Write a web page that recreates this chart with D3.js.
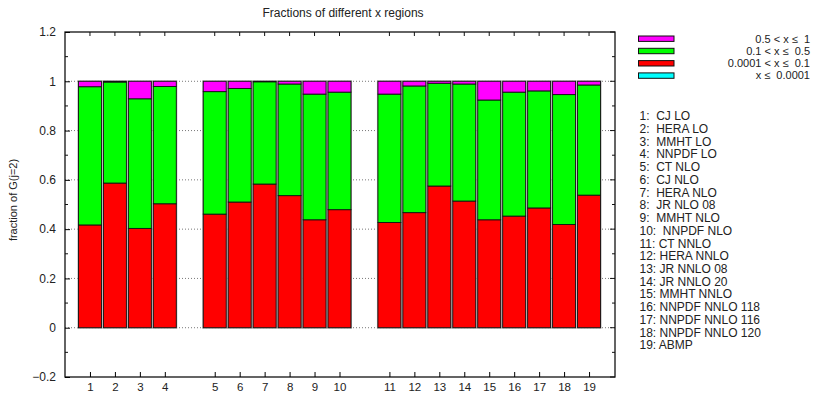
<!DOCTYPE html>
<html>
<head>
<meta charset="utf-8">
<script src="https://cdn.jsdelivr.net/npm/d3@7"></script>
<style>
body { margin: 0; background: #fff; }
text { font-family: "Liberation Sans", Arial, sans-serif; fill: #222; }
</style>
</head>
<body>
<div id="chart"></div>
<script>
// bar labels (x tick text) and their slot on the x axis (groups separated by gaps)
var ticks = ["1","2","3","4","5","6","7","8","9","10","11","12","13","14","15","16","17","18","19"];
var slots = [0,1,2,3, 5,6,7,8,9,10, 12,13,14,15,16,17,18,19,20];
var names = ["1:  CJ LO","2:  HERA LO","3:  MMHT LO","4:  NNPDF LO","5:  CT NLO","6:  CJ NLO",
  "7:  HERA NLO","8:  JR NLO 08","9:  MMHT NLO","10:  NNPDF NLO","11: CT NNLO","12: HERA NNLO",
  "13: JR NNLO 08","14: JR NNLO 20","15: MMHT NNLO","16: NNPDF NNLO 118","17: NNPDF NNLO 116",
  "18: NNPDF NNLO 120","19: ABMP"];

// fractions per x region
var lowX  = [0,0,0,0, 0,0,0,0,0,0, 0,0,0,0,0,0,0,0,0];   // x <= 0.0001
var midX  = [0.417,0.587,0.403,0.503, 0.461,0.510,0.583,0.536,0.438,0.479,
             0.427,0.467,0.575,0.514,0.438,0.453,0.486,0.419,0.538];  // 0.0001 < x <= 0.1
var highX = [0.561,0.410,0.526,0.476, 0.497,0.461,0.415,0.453,0.510,0.477,
             0.521,0.514,0.417,0.475,0.486,0.503,0.475,0.527,0.447];  // 0.1 < x <= 0.5
var topX  = [0.022,0.003,0.071,0.021, 0.042,0.029,0.002,0.011,0.052,0.044,
             0.052,0.019,0.008,0.011,0.076,0.044,0.039,0.054,0.015];  // 0.5 < x <= 1

var legendLabels = ["0.5 < x \u2264  1", "0.1 < x \u2264  0.5", "0.0001 < x \u2264  0.1", "x \u2264  0.0001"];
var colors = ["#ff00ff", "#00ff00", "#ff0000", "#00ffff"];

var width = 813, height = 394;
var margin = {top: 32, right: 198, bottom: 17, left: 65};

var svg = d3.select("#chart").append("svg")
  .attr("width", width)
  .attr("height", height);

var x = d3.scaleLinear().domain([-1, 21.04]).range([margin.left, width - margin.right]);
var y = d3.scaleLinear().domain([-0.2, 1.2]).range([height - margin.bottom, margin.top]);

// grid lines at major ticks
var majors = d3.range(-0.2, 1.21, 0.2).map(d => +d.toFixed(1));
svg.append("g").selectAll("line").data(majors.filter(d => d > -0.2 && d < 1.2))
  .enter().append("line")
  .attr("x1", x(-1)).attr("x2", x(21.04))
  .attr("y1", d => y(d)).attr("y2", d => y(d))
  .attr("stroke", "#555")
  .attr("stroke-width", 0.8)
  .attr("stroke-dasharray", "1,2");

// stacked bars
var rows = ticks.map(function(t, i) {
  return {slot: slots[i], low: lowX[i], mid: midX[i], high: highX[i], top: topX[i]};
});
var stack = d3.stack().keys(["low", "mid", "high", "top"]);
var series = stack(rows);
var segColor = {low: colors[3], mid: colors[2], high: colors[1], top: colors[0]};
var bw = x(0.92) - x(0);

// gray outer border of each bar
svg.append("g").selectAll("rect").data(rows).enter().append("rect")
  .attr("x", d => x(d.slot) - bw / 2 - 1)
  .attr("width", bw + 2)
  .attr("y", d => y(d.low + d.mid + d.high + d.top) - 1)
  .attr("height", d => y(0) - y(d.low + d.mid + d.high + d.top) + 2)
  .attr("fill", "#aaa");

svg.append("g").selectAll("g").data(series).enter().append("g")
  .attr("fill", d => segColor[d.key])
  .selectAll("rect").data(d => d).enter().append("rect")
  .attr("x", d => x(d.data.slot) - bw / 2)
  .attr("width", bw)
  .attr("y", d => y(d[1]))
  .attr("height", d => Math.max(0, y(d[0]) - y(d[1])))
  .attr("stroke", "#111")
  .attr("stroke-width", 0.9);

// frame
svg.append("rect")
  .attr("x", x(-1)).attr("y", y(1.2))
  .attr("width", x(21.04) - x(-1)).attr("height", y(-0.2) - y(1.2))
  .attr("fill", "none").attr("stroke", "#111").attr("stroke-width", 1.3);

// y axis, left and right, major ticks with labels and minor ticks
var yAxis = d3.axisLeft(y).tickValues(majors).tickSize(-5).tickPadding(9)
  .tickFormat(d3.format("~g"));
var gy = svg.append("g").attr("transform", `translate(${x(-1)},0)`).call(yAxis);
gy.select(".domain").remove();
gy.selectAll("text").attr("font-size", "12px").attr("fill", "#222");
var minors = d3.range(-0.1, 1.2, 0.2).map(d => +d.toFixed(1));
svg.append("g").selectAll("line").data(minors).enter().append("line")
  .attr("x1", x(-1)).attr("x2", x(-1) + 3)
  .attr("y1", d => y(d)).attr("y2", d => y(d))
  .attr("stroke", "#111");
svg.append("g").selectAll("line").data(majors.concat(minors)).enter().append("line")
  .attr("x1", x(21.04)).attr("x2", d => x(21.04) - (minors.indexOf(d) >= 0 ? 3 : 5))
  .attr("y1", d => y(d)).attr("y2", d => y(d))
  .attr("stroke", "#111");

// x axis, bottom and top
var xAxis = d3.axisBottom(x).tickValues(slots).tickSize(-5).tickPadding(6)
  .tickFormat((d, i) => ticks[i]);
var gx = svg.append("g").attr("transform", `translate(0,${y(-0.2)})`).call(xAxis);
gx.select(".domain").remove();
gx.selectAll("text").attr("font-size", "11.5px").attr("fill", "#222");
svg.append("g").selectAll("line").data(slots).enter().append("line")
  .attr("x1", d => x(d)).attr("x2", d => x(d))
  .attr("y1", y(1.2)).attr("y2", y(1.2) + 4)
  .attr("stroke", "#111");

// title and axis label
svg.append("text")
  .attr("x", 343).attr("y", 17)
  .attr("text-anchor", "middle")
  .attr("font-size", "12px")
  .text("Fractions of different x regions");

svg.append("text")
  .attr("transform", "rotate(-90)")
  .attr("x", -200).attr("y", 17)
  .attr("text-anchor", "middle")
  .attr("font-size", "11px")
  .text("fraction of G(j=2)");

// legend
var lg = svg.append("g");
legendLabels.forEach(function(lab, i) {
  var cy = 38.7 + i * 12.3;
  lg.append("rect")
    .attr("x", 638.5).attr("y", cy - 2.7)
    .attr("width", 35.5).attr("height", 5.4)
    .attr("fill", colors[i]).attr("stroke", "#111").attr("stroke-width", 1);
  lg.append("text")
    .attr("x", 810).attr("y", cy + 3.8)
    .attr("text-anchor", "end")
    .attr("font-size", "11px")
    .style("white-space", "pre")
    .text(lab);
});

// list of PDF sets
svg.append("g").selectAll("text").data(names).enter().append("text")
  .attr("x", 639.5)
  .attr("y", (d, i) => 120.3 + i * 12.72)
  .attr("font-size", "12px")
  .style("white-space", "pre")
  .text(d => d);
</script>
</body>
</html>
